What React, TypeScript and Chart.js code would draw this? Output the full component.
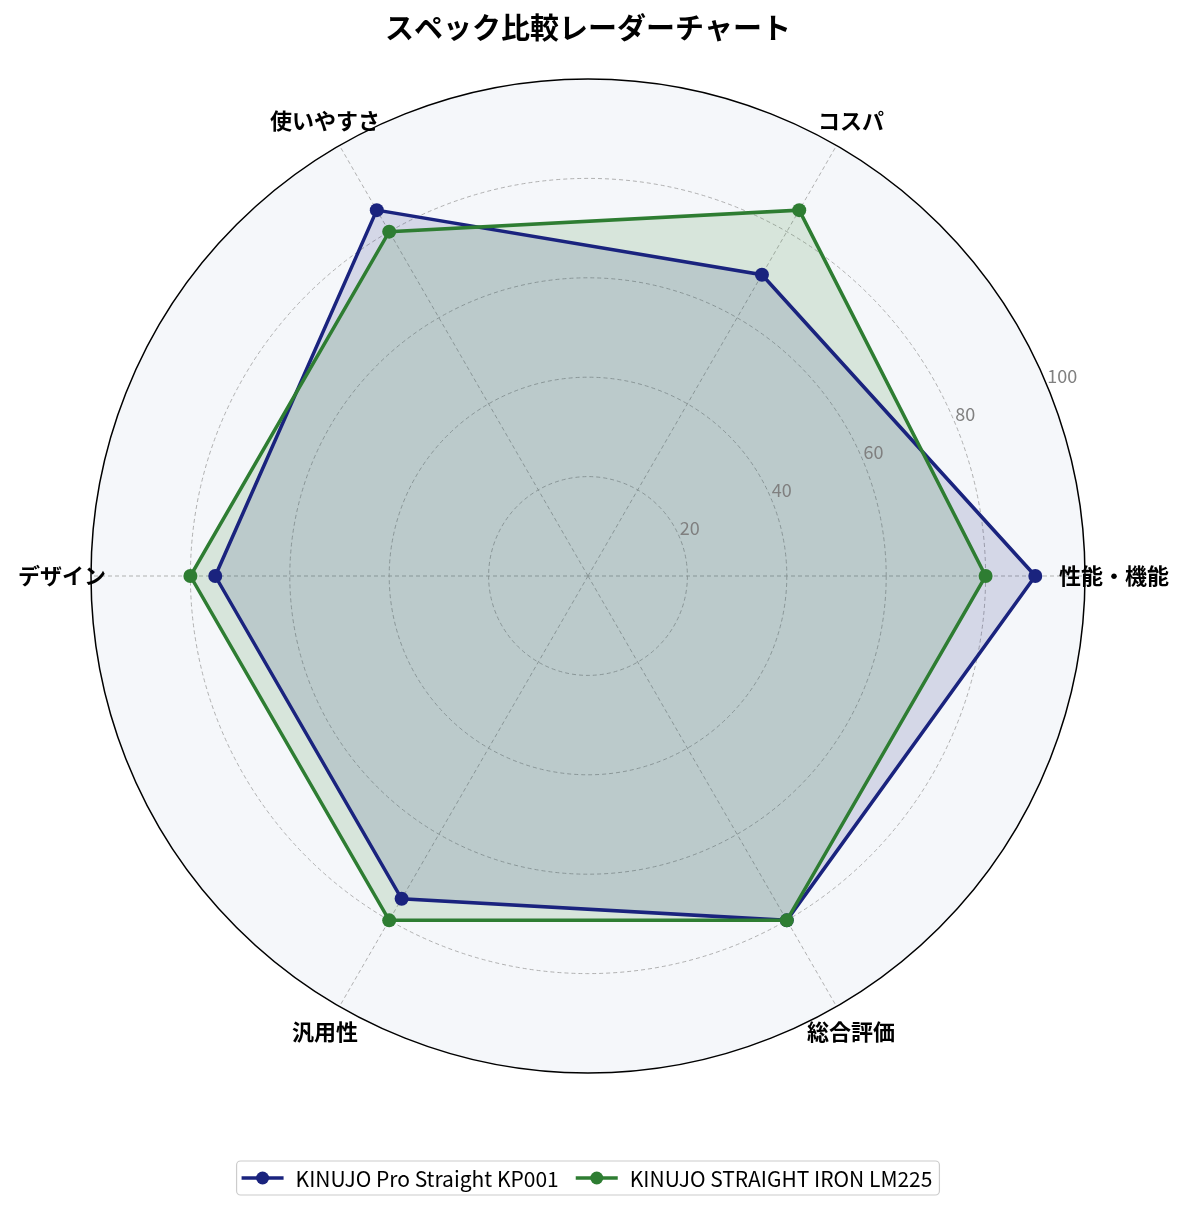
import { useEffect, useRef } from "react"
import { Chart, registerables, type ChartConfiguration, type Plugin } from "chart.js"

Chart.register(...registerables)

const chartTitle = "スペック比較レーダーチャート"
// Chart.js goes clockwise from startAngle, so categories are listed clockwise from the right
const categories = ["性能・機能", "総合評価", "汎用性", "デザイン", "使いやすさ", "コスパ"]
const kp001Label = "KINUJO Pro Straight KP001"
const kp001Values = [90, 80, 75, 75, 85, 70]
const lm225Label = "KINUJO STRAIGHT IRON LM225"
const lm225Values = [80, 80, 80, 80, 80, 85]
const tickValues = [20, 40, 60, 80, 100]

const BLUE = "#1a237e"
const GREEN = "#2e7d32"
const FONT = '"Noto Sans CJK JP", "Noto Sans", sans-serif'
const TICK_ANGLE = (22.5 * Math.PI) / 180

// background, tick labels, axis labels, title, legend
const radarDecor: Plugin<"radar"> = {
  id: "radarDecor",
  beforeDraw(chart) {
    const s = chart.scales.r as any
    const ctx = chart.ctx
    ctx.save()
    ctx.fillStyle = "#f5f7fa"
    ctx.beginPath()
    ctx.arc(s.xCenter, s.yCenter, s.drawingArea, 0, Math.PI * 2)
    ctx.fill()
    ctx.restore()
  },
  afterDatasetsDraw(chart) {
    const s = chart.scales.r as any
    const ctx = chart.ctx
    ctx.save()
    ctx.font = `18px ${FONT}`
    ctx.fillStyle = "#808080"
    ctx.textAlign = "left"
    ctx.textBaseline = "alphabetic"
    tickValues.forEach((v) => {
      const d = s.getDistanceFromCenterForValue(v)
      ctx.fillText(String(v), s.xCenter + Math.cos(TICK_ANGLE) * d, s.yCenter - Math.sin(TICK_ANGLE) * d - 3)
    })
    ctx.restore()
  },
  afterDraw(chart) {
    const s = chart.scales.r as any
    const ctx = chart.ctx
    ctx.save()

    // axis labels
    ctx.font = `bold 22px ${FONT}`
    ctx.fillStyle = "#000"
    ctx.textAlign = "center"
    ctx.textBaseline = "middle"
    ;(chart.data.labels as string[]).forEach((label, i) => {
      const p = s.getPointPosition(i, s.drawingArea + 29)
      ctx.fillText(label, p.x, p.y)
    })

    // title
    ctx.font = `bold 29px ${FONT}`
    ctx.fillText(chartTitle, s.xCenter, 28)

    // legend
    ctx.font = `21px ${FONT}`
    const items = chart.data.datasets.map((ds) => ({ label: ds.label as string, color: ds.borderColor as string }))
    const handle = 42
    const gapText = 12
    const gapItem = 17
    const padL = 5
    const padR = 7
    const widths = items.map((it) => ctx.measureText(it.label).width)
    const total = padL + padR + widths.reduce((a, w) => a + handle + gapText + w, 0) + gapItem * (items.length - 1)
    const left = s.xCenter - total / 2
    const top = 1161
    const h = 34
    const cy = top + h / 2
    ctx.beginPath()
    ctx.roundRect(left, top, total, h, 4)
    ctx.fillStyle = "rgba(255,255,255,0.8)"
    ctx.fill()
    ctx.strokeStyle = "#cccccc"
    ctx.lineWidth = 1.2
    ctx.stroke()
    let x = left + padL
    items.forEach((it, i) => {
      ctx.strokeStyle = it.color
      ctx.lineWidth = 3.5
      ctx.beginPath()
      ctx.moveTo(x, cy)
      ctx.lineTo(x + handle, cy)
      ctx.stroke()
      ctx.fillStyle = it.color
      ctx.beginPath()
      ctx.arc(x + handle / 2, cy, 6.5, 0, Math.PI * 2)
      ctx.fill()
      ctx.fillStyle = "#000"
      ctx.textAlign = "left"
      ctx.textBaseline = "middle"
      ctx.fillText(it.label, x + handle + gapText, cy + 1)
      x += handle + gapText + widths[i] + gapItem
    })
    ctx.restore()
  },
}

export default function App() {
  const canvasRef = useRef<HTMLCanvasElement>(null)
  const chartRef = useRef<Chart | null>(null)

  useEffect(() => {
    if (!canvasRef.current) return
    const ctx = canvasRef.current.getContext("2d")
    if (!ctx) return

    if (chartRef.current) {
      chartRef.current.destroy()
    }

    const config: ChartConfiguration<"radar"> = {
      type: "radar",
      data: {
        labels: categories,
        datasets: [
          {
            label: kp001Label,
            data: kp001Values,
            borderColor: BLUE,
            backgroundColor: "rgba(26, 35, 126, 0.15)",
            pointBackgroundColor: BLUE,
            pointBorderColor: BLUE,
            borderWidth: 3.5,
            pointRadius: 7,
            pointBorderWidth: 0,
            fill: true,
            order: 2,
          },
          {
            label: lm225Label,
            data: lm225Values,
            borderColor: GREEN,
            backgroundColor: "rgba(46, 125, 50, 0.15)",
            pointBackgroundColor: GREEN,
            pointBorderColor: GREEN,
            borderWidth: 3.5,
            pointRadius: 7,
            pointBorderWidth: 0,
            fill: true,
            order: 1,
          },
        ],
      },
      options: {
        responsive: true,
        maintainAspectRatio: false,
        animation: false,
        layout: { padding: { left: 91, right: 100, top: 79, bottom: 138 } },
        elements: { line: { tension: 0 } },
        plugins: {
          legend: { display: false },
          title: { display: false },
          tooltip: { enabled: false },
          filler: { drawTime: "beforeDatasetsDraw" },
        },
        scales: {
          r: {
            min: 0,
            max: 100,
            startAngle: 90,
            ticks: { display: false, stepSize: 20 },
            pointLabels: { display: false },
            grid: {
              circular: true,
              color: (c: any) => (c.tick && c.tick.value === 100 ? "#000000" : "#a8a8a8"),
              lineWidth: (c: any) => (c.tick && c.tick.value === 100 ? 1.5 : 0.9),
            },
            border: {
              dash: (c: any) => (c.tick && c.tick.value === 100 ? [] : [4, 3]),
            },
            angleLines: { color: "#a8a8a8", lineWidth: 0.9, borderDash: [4, 3] },
          },
        },
      },
      plugins: [radarDecor],
    }

    chartRef.current = new Chart(ctx, config)

    return () => {
      if (chartRef.current) {
        chartRef.current.destroy()
        chartRef.current = null
      }
    }
  }, [])

  return (
    <div style={{ position: "absolute", left: 0, top: 0, width: 1185, height: 1211, background: "#ffffff" }}>
      <canvas ref={canvasRef} />
    </div>
  )
}
